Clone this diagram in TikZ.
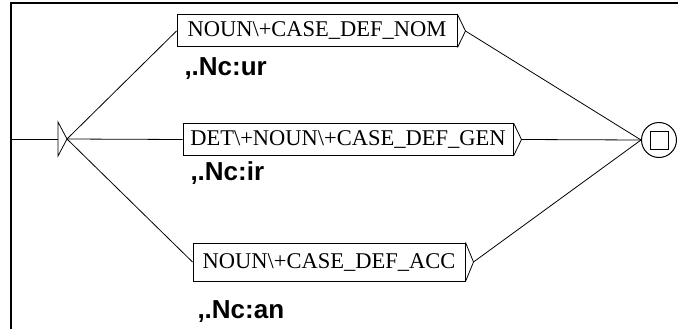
\documentclass[tikz,border=0pt]{standalone}
\usepackage{fontspec}
\setmainfont{Liberation Serif}
\newfontfamily\labelfont{Liberation Sans}
\usetikzlibrary{calc, positioning}

\begin{document}
\begin{tikzpicture}[x=1pt, y=-1pt, line width=1pt]
    % Style definitions
    \tikzset{box/.style={draw, rectangle, inner sep=0pt, minimum height=32pt, font=\fontsize{22.5}{22.5}\selectfont}}
    \tikzset{output/.style={anchor=base west, inner sep=0pt, font=\labelfont\bfseries\fontsize{26}{26}\selectfont}}
    \tikzset{final/.style={draw, circle, minimum size=35pt, inner sep=0pt}}
    \tikzset{edge/.style={line width=0.8pt}}
    \useasboundingbox (0,0) rectangle (678,329);

    % Frame
    \draw [line width=2pt] (11,329) -- (11,3.5) -- (678,3.5);

    % Nodes
    \coordinate (entry) at (11,139);
    \coordinate (init) at (67,139);
    \node [box, minimum width=280pt] (nom) at (317,31) {NOUN\textbackslash+CASE\_DEF\_NOM};
    \node [box, minimum width=330pt] (gen) at (348,139.5) {DET\textbackslash+NOUN\textbackslash+CASE\_DEF\_GEN};
    \node [box, minimum width=272pt, minimum height=38pt] (acc) at (329,262) {NOUN\textbackslash+CASE\_DEF\_ACC};
    \node [output] (nomout) at (184,76) {,.Nc:ur};
    \node [output] (genout) at (190,180) {,.Nc:ir};
    \node [output] (accout) at (197,318) {,.Nc:an};
    \node [final] (fin) at (659,140) {};
    \node [draw, rectangle, minimum size=18pt, inner sep=0pt] (finsq) at (fin) {};

    % Box tails
    \foreach \b in {nom, gen, acc} {
        \coordinate (\b tip) at ($(\b.east)+(8,0)$);
        \draw [edge] (\b.north east) -- (\b tip) -- (\b.south east);
    }
    % Initial state
    \draw [edge] (init) -- ++(-9,-17) -- ++(0,34) -- cycle;

    % Arrows
    \draw [edge] (entry) -- ($(init)+(-9,0)$);
    \draw [edge] (init) -- (nom.west);
    \draw [edge] (init) -- (gen.west);
    \draw [edge] (init) -- (acc.west);
    \draw [edge] (nomtip) -- (fin.west);
    \draw [edge] (gentip) -- (fin.west);
    \draw [edge] (acctip) -- (fin.west);
\end{tikzpicture}
\end{document}
